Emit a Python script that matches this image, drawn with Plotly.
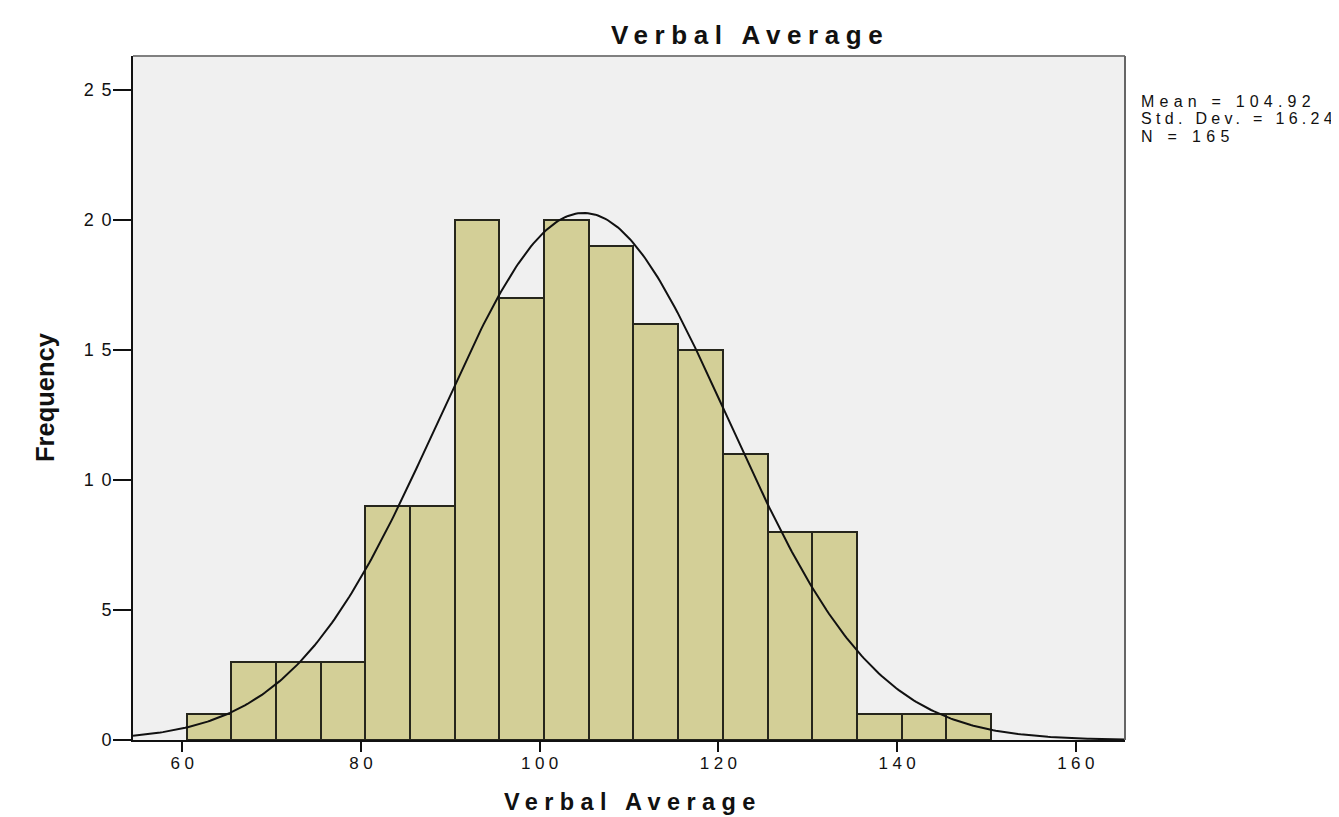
import plotly.graph_objects as go
import numpy as np

# ---- data ----
bin_start = 60.5
bin_width = 5
frequencies = [1, 3, 3, 3, 9, 9, 20, 17, 20, 19, 16, 15, 11, 8, 8, 1, 1, 1]
MEAN = 104.92
SD = 16.24
N = 165
x_tick_vals = [60, 80, 100, 120, 140, 160]
y_tick_vals = [0, 5, 10, 15, 20, 25]
stats_lines = ["Mean = 104.92", "Std. Dev. = 16.24", "N = 165"]

centers = [bin_start + bin_width * (i + 0.5) for i in range(len(frequencies))]

# fitted normal curve (as drawn by SPSS from the stats above)
xc = np.linspace(54.5, 165.5, 400)
yc = N * bin_width / (SD * np.sqrt(2 * np.pi)) * np.exp(-0.5 * ((xc - MEAN) / SD) ** 2)

FONT = "Liberation Sans, Arial, sans-serif"

def sp(t, ls):
    # letter-spacing on every character except the last (no trailing gap)
    if len(t) <= 1:
        return t
    return f'<span style="letter-spacing:{ls}px">{t[:-1]}</span>{t[-1]}'

W, H = 1331, 809   # page body has an 8px margin
fig = go.Figure()
fig.add_trace(go.Bar(
    x=centers, y=frequencies, width=bin_width,
    marker=dict(color="#d3cf97", line=dict(color="#26261c", width=2)),
    hoverinfo="x+y", showlegend=False,
))
fig.add_trace(go.Scatter(
    x=xc, y=yc, mode="lines", line=dict(color="#111111", width=2),
    hoverinfo="skip", showlegend=False,
))

fig.update_layout(
    width=W, height=H,
    margin=dict(l=125, r=214, t=48, b=77, pad=0),
    paper_bgcolor="white", plot_bgcolor="#f0f0f0",
    bargap=0,
    font=dict(family=FONT, color="#111111", size=17),
    xaxis=dict(
        range=[54.5, 165.5], tickmode="array", tickvals=x_tick_vals,
        ticktext=[sp(str(v), 4.5) for v in x_tick_vals],
        ticks="outside", ticklen=10, tickwidth=2, tickcolor="#111",
        showline=True, linecolor="#111", linewidth=2,
        showgrid=False, zeroline=False, tickfont=dict(size=17),
        ticklabelstandoff=-3,
    ),
    yaxis=dict(
        range=[0, 26.3], tickmode="array", tickvals=y_tick_vals,
        ticktext=[sp(str(v), 7.5) for v in y_tick_vals],
        ticks="outside", ticklen=18, tickwidth=2, tickcolor="#111",
        showline=True, linecolor="#111", linewidth=2,
        showgrid=False, zeroline=False, tickfont=dict(size=18),
        ticklabelstandoff=-2,
    ),
    shapes=[
        dict(type="line", xref="paper", yref="paper", x0=0, x1=1, y0=1, y1=1,
             line=dict(color="#808080", width=2)),
        dict(type="line", xref="paper", yref="paper", x0=1, x1=1, y0=0, y1=1,
             line=dict(color="#666666", width=2)),
    ],
)

ann = []
ann.append(dict(text="<b>" + sp("Verbal Average", 6.6) + "</b>", xref="paper", yref="paper",
                x=0.619, y=1.0307, xanchor="center", yanchor="middle", showarrow=False,
                font=dict(family=FONT, size=26, color="#111")))
ann.append(dict(text="<b>" + sp("Verbal Average", 6.4) + "</b>", xref="paper", yref="paper",
                x=0.5, y=-0.0906, xanchor="center", yanchor="middle", showarrow=False,
                font=dict(family=FONT, size=23.5, color="#111")))
ann.append(dict(text="<b>Frequency</b>", xref="paper", yref="paper",
                x=-0.0887, y=0.5015, xanchor="center", yanchor="middle", showarrow=False,
                textangle=-90,
                font=dict(family=FONT, size=25.5, color="#111")))
stats_spacing = [5.2, 4.3, 5.3]
for line, yy, ls in zip(stats_lines, [0.934, 0.908, 0.883], stats_spacing):
    ann.append(dict(text=sp(line, ls), xref="paper", yref="paper",
                    x=1.014, y=yy, xanchor="left", yanchor="middle", showarrow=False,
                    font=dict(family=FONT, size=16, color="#111")))
fig.update_layout(annotations=ann)

fig.write_html("out.html")
